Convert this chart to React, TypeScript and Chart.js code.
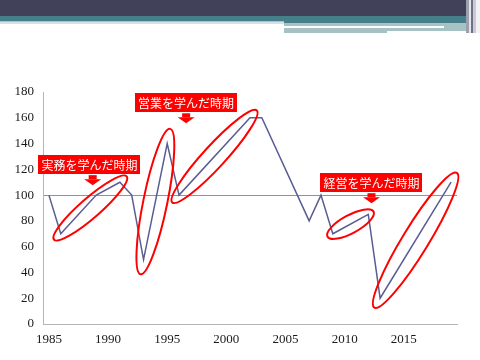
import React, { useEffect, useRef } from 'react';
import { Chart, registerables } from 'chart.js';

Chart.register(...registerables);

const years: string[] = [
  '1985', '1986', '1987', '1988', '1989', '1990', '1991', '1992', '1993', '1994',
  '1995', '1996', '1997', '1998', '1999', '2000', '2001', '2002', '2003', '2004',
  '2005', '2006', '2007', '2008', '2009', '2010', '2011', '2012', '2013', '2014',
  '2015', '2016', '2017', '2018', '2019',
];

const values: (number | null)[] = [
  100, 70, null, null, 100, null, 110, 100, 50, null,
  140, 100, null, null, null, null, null, 160, 160, null,
  null, null, 80, 100, 70, null, null, 85, 20, null,
  null, null, null, null, 110,
];

const yTicks: number[] = [0, 20, 40, 60, 80, 100, 120, 140, 160, 180];

const periodLabels: string[] = ['実務を学んだ時期', '営業を学んだ時期', '経営を学んだ時期'];
// index on the category axis where each label sits, and its top in value units
const labelIndex: number[] = [3.43, 11.59, 27.27];
const labelTopValue: number[] = [131, 179, 117];
const arrowIndex: number[] = [3.7, 11.6, 27.27];

// highlighted periods (start / end category index)
const periodFrom: number[] = [1, 8, 11, 24, 28];
const periodTo: number[] = [6, 10, 17, 27, 34];

const ellipseStyle = [
  { ext: 9, minor: 10 },
  { ext: 15, minor: 12 },
  { ext: 10, minor: 11 },
  { ext: 6, minor: 9 },
  { ext: 11, minor: 13 },
];

const annotationPlugin = {
  id: 'periodAnnotations',
  afterDraw(chart: any) {
    const ctx = chart.ctx as CanvasRenderingContext2D;
    const xs = chart.scales.x;
    const ys = chart.scales.y;
    ctx.save();
    // ellipses
    ctx.strokeStyle = '#ff0000';
    ctx.lineWidth = 2;
    periodFrom.forEach((from, i) => {
      const to = periodTo[i];
      const x1 = xs.getPixelForValue(from);
      const y1 = ys.getPixelForValue(values[from] as number);
      const x2 = xs.getPixelForValue(to);
      const y2 = ys.getPixelForValue(values[to] as number);
      const cx = (x1 + x2) / 2;
      const cy = (y1 + y2) / 2;
      const len = Math.hypot(x2 - x1, y2 - y1);
      const ang = Math.atan2(y2 - y1, x2 - x1);
      ctx.beginPath();
      ctx.ellipse(cx, cy, len / 2 + ellipseStyle[i].ext, ellipseStyle[i].minor, ang, 0, Math.PI * 2);
      ctx.stroke();
    });
    // labels
    ctx.font = "12px 'Noto Sans CJK JP', sans-serif";
    ctx.textAlign = 'center';
    ctx.textBaseline = 'middle';
    periodLabels.forEach((txt, i) => {
      const cx = xs.getPixelForValue(labelIndex[i]);
      const top = ys.getPixelForValue(labelTopValue[i]);
      const w = ctx.measureText(txt).width + 6;
      const h = 19;
      ctx.fillStyle = '#ff0000';
      ctx.fillRect(Math.round(cx - w / 2), Math.round(top), Math.round(w), h);
      ctx.fillStyle = '#ffffff';
      ctx.fillText(txt, cx, top + h / 2 + 0.5);
      // arrow
      const ax = xs.getPixelForValue(arrowIndex[i]);
      const ay = top + h + 1;
      ctx.fillStyle = '#ff0000';
      ctx.fillRect(ax - 4, ay, 8, 4);
      ctx.beginPath();
      ctx.moveTo(ax - 8.5, ay + 4);
      ctx.lineTo(ax + 8.5, ay + 4);
      ctx.lineTo(ax, ay + 10);
      ctx.closePath();
      ctx.fill();
    });
    ctx.restore();
  },
};

export default function App() {
  const canvasRef = useRef<HTMLCanvasElement | null>(null);

  useEffect(() => {
    if (!canvasRef.current) return;
    const chart = new Chart(canvasRef.current, {
      type: 'line',
      data: {
        labels: years,
        datasets: [
          {
            data: values,
            borderColor: '#5a5d94',
            borderWidth: 1.5,
            pointRadius: 0,
            tension: 0,
            spanGaps: true,
            fill: false,
          },
        ],
      },
      options: {
        responsive: false,
        animation: false,
        layout: { padding: { left: 0, right: 23, top: 92, bottom: 0 } },
        plugins: {
          legend: { display: false },
          tooltip: { enabled: false },
        },
        scales: {
          x: {
            type: 'category',
            offset: true,
            grid: { display: false, drawTicks: false },
            border: { display: true, color: '#b5b5b5', width: 1 },
            ticks: {
              autoSkip: false,
              maxRotation: 0,
              padding: 8,
              color: '#1a1a1a',
              font: { family: "'Liberation Serif', serif", size: 13 },
              callback: (_v: any, i: number) => (Number(years[i]) % 5 === 0 ? years[i] : ''),
            },
            afterFit: (s: any) => {
              s.height = 36;
            },
          },
          y: {
            min: 0,
            max: 180,
            afterBuildTicks: (s: any) => {
              s.ticks = yTicks.map((v) => ({ value: v }));
            },
            grid: {
              drawTicks: false,
              color: (c: any) => (c.tick && c.tick.value === 100 ? '#8c8fb0' : 'rgba(0,0,0,0)'),
              lineWidth: 1,
            },
            border: { display: true, color: '#b5b5b5', width: 1 },
            ticks: {
              padding: 9,
              color: '#1a1a1a',
              font: { family: "'Liberation Serif', serif", size: 13 },
            },
            afterFit: (s: any) => {
              s.width = 43;
            },
          },
        },
      },
      plugins: [annotationPlugin],
    });
    return () => chart.destroy();
  }, []);

  const abs = (l: number, t: number, w: number, h: number, bg: string): React.CSSProperties => ({
    position: 'absolute', left: l, top: t, width: w, height: h, background: bg,
  });

  return (
    <div style={{ position: 'fixed', left: 0, top: 0, width: 480, height: 360, background: '#ffffff', overflow: 'hidden' }}>
      <canvas ref={canvasRef} width={480} height={360} style={{ position: 'absolute', left: 0, top: 0, display: 'block' }} />
      <div style={abs(0, 0, 480, 16, '#41425a')} />
      <div style={abs(0, 16, 284, 5, '#45808a')} />
      <div style={abs(0, 21, 284, 1, '#a8c4c8')} />
      <div style={abs(0, 22, 284, 2, '#d5e2e4')} />
      <div style={abs(284, 16, 183, 7, '#45808a')} />
      <div style={abs(284, 23, 186, 8, '#a6c2c5')} />
      <div style={abs(284, 26, 160, 1.5, '#ffffff')} />
      <div style={abs(284, 31, 103, 2, '#a6c2c5')} />
      <div style={abs(466, 0, 3, 33, '#9d9fae')} />
      <div style={abs(469, 0, 2, 33, '#e4e4ea')} />
      <div style={abs(471, 0, 2, 33, '#6e7086')} />
      <div style={abs(473, 0, 3, 33, '#c9cad3')} />
      <div style={abs(476, 0, 4, 33, '#f2f2f5')} />
    </div>
  );
}
